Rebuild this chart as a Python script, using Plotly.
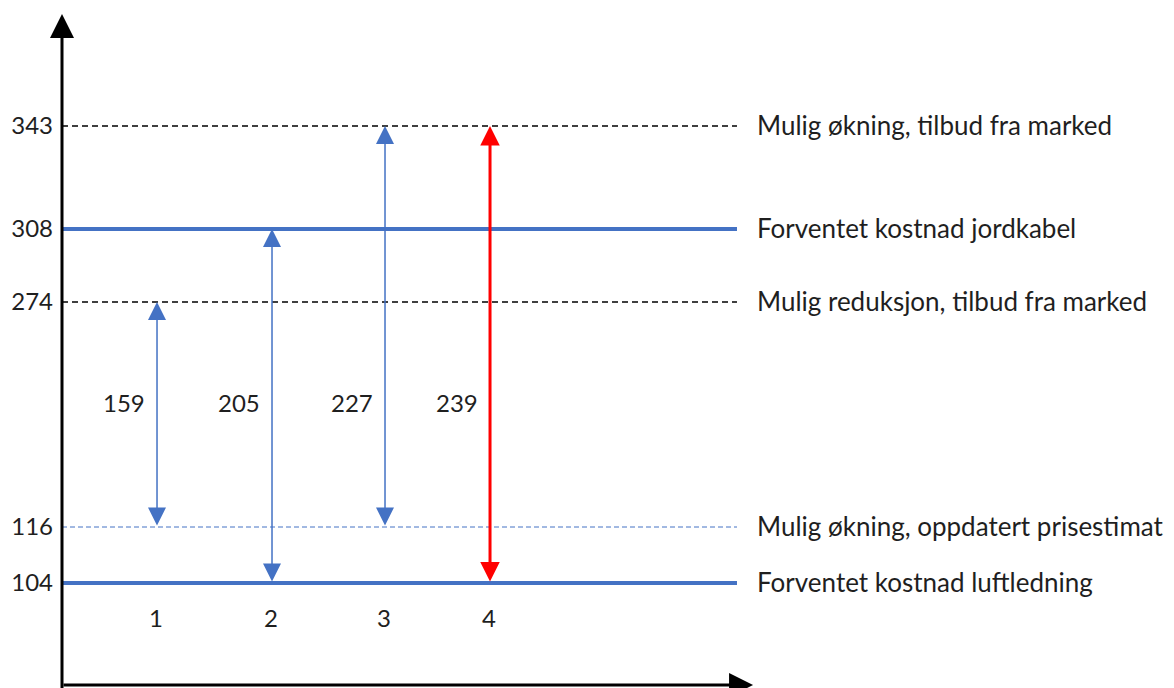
import plotly.graph_objects as go

# ---- data ----
level_values = [343, 308, 274, 116, 104]
level_labels = [
    "Mulig økning, tilbud fra marked",
    "Forventet kostnad jordkabel",
    "Mulig reduksjon, tilbud fra marked",
    "Mulig økning, oppdatert prisestimat",
    "Forventet kostnad luftledning",
]
alternatives = [1, 2, 3, 4]
arrow_low = [116, 104, 116, 104]
arrow_high = [274, 308, 343, 343]
arrow_diff = [159, 205, 227, 239]

# ---- layout (schematic placement, not data) ----
level_pos = {343: 562, 308: 459, 274: 386, 116: 161, 104: 105}
alt_pos = {1: 1.0, 2: 2.036, 3: 3.054, 4: 4.0}
level_style = {
    343: dict(color="#000000", width=1.3, dash="6px,4px"),
    308: dict(color="#4472C4", width=4, dash="solid"),
    274: dict(color="#000000", width=1.3, dash="6px,4px"),
    116: dict(color="#4472C4", width=1, dash="5px,3px"),
    104: dict(color="#4472C4", width=4, dash="solid"),
}
X0, X_LINE_END, X_TEXT = 0.144, 6.225, 6.39
Y_DIFF_ROW, Y_ALT_ROW, Y_XAXIS, Y_TOP = 286, 71, 3, 674
FONT = "Lato"
TXT = "#1f1f1f"

fig = go.Figure()

for v in level_values:
    p = level_pos[v]
    fig.add_trace(go.Scatter(x=[X0, X_LINE_END], y=[p, p], mode="lines",
                             line=level_style[v], hoverinfo="skip", showlegend=False))

annotations = []
for v, lab in zip(level_values, level_labels):
    annotations.append(dict(x=X_TEXT, y=level_pos[v], xref="x", yref="y", text=lab,
                            showarrow=False, xanchor="left", yanchor="middle", yshift=1,
                            font=dict(family=FONT, size=26, color=TXT)))

for i, (a, lo, hi, d) in enumerate(zip(alternatives, arrow_low, arrow_high, arrow_diff)):
    red = i == 3
    col = "#FF0000" if red else "#4472C4"
    w = 3 if red else 1.5
    xa = alt_pos[a]
    annotations.append(dict(x=xa, y=level_pos[hi], ax=xa, ay=level_pos[lo],
                            xref="x", yref="y", axref="x", ayref="y", text="",
                            showarrow=True, arrowhead=2, startarrowhead=2,
                            arrowside="end+start", arrowcolor=col, arrowwidth=w,
                            arrowsize=(1.3 if red else 2.4), startarrowsize=(1.3 if red else 2.4)))
    annotations.append(dict(x=xa, y=Y_DIFF_ROW, xref="x", yref="y", text=str(d),
                            showarrow=False, xshift=-33,
                            font=dict(family=FONT, size=24, color=TXT)))
    annotations.append(dict(x=xa, y=Y_ALT_ROW, xref="x", yref="y", text=str(a),
                            showarrow=False, xshift=-1,
                            font=dict(family=FONT, size=24, color=TXT)))

# axes drawn as arrows
annotations.append(dict(x=X0, y=Y_TOP, ax=X0, ay=-5, xref="x", yref="y", axref="x", ayref="y",
                        text="", showarrow=True, arrowhead=2, arrowsize=1.6,
                        arrowwidth=3, arrowcolor="#000000"))
annotations.append(dict(x=6.37, y=Y_XAXIS, ax=X0, ay=Y_XAXIS, xref="x", yref="y", axref="x", ayref="y",
                        text="", showarrow=True, arrowhead=2, arrowsize=1.6,
                        arrowwidth=3, arrowcolor="#000000"))

# page body has an 8px margin: figure occupies 1166x680 starting at (8, 8)
fig.update_layout(
    width=1166, height=680,
    margin=dict(l=54, r=0, t=0, b=0),
    paper_bgcolor="white", plot_bgcolor="white",
    annotations=annotations,
    xaxis=dict(range=[X0, 10.162], visible=False, fixedrange=True),
    yaxis=dict(range=[0, 680], showgrid=False, zeroline=False, showline=False,
               tickvals=[level_pos[v] for v in level_values],
               ticktext=[str(v) for v in level_values],
               ticks="", ticklabelstandoff=8,
               tickfont=dict(family=FONT, size=24, color=TXT), fixedrange=True),
    showlegend=False,
)

fig.write_html("out.html")
